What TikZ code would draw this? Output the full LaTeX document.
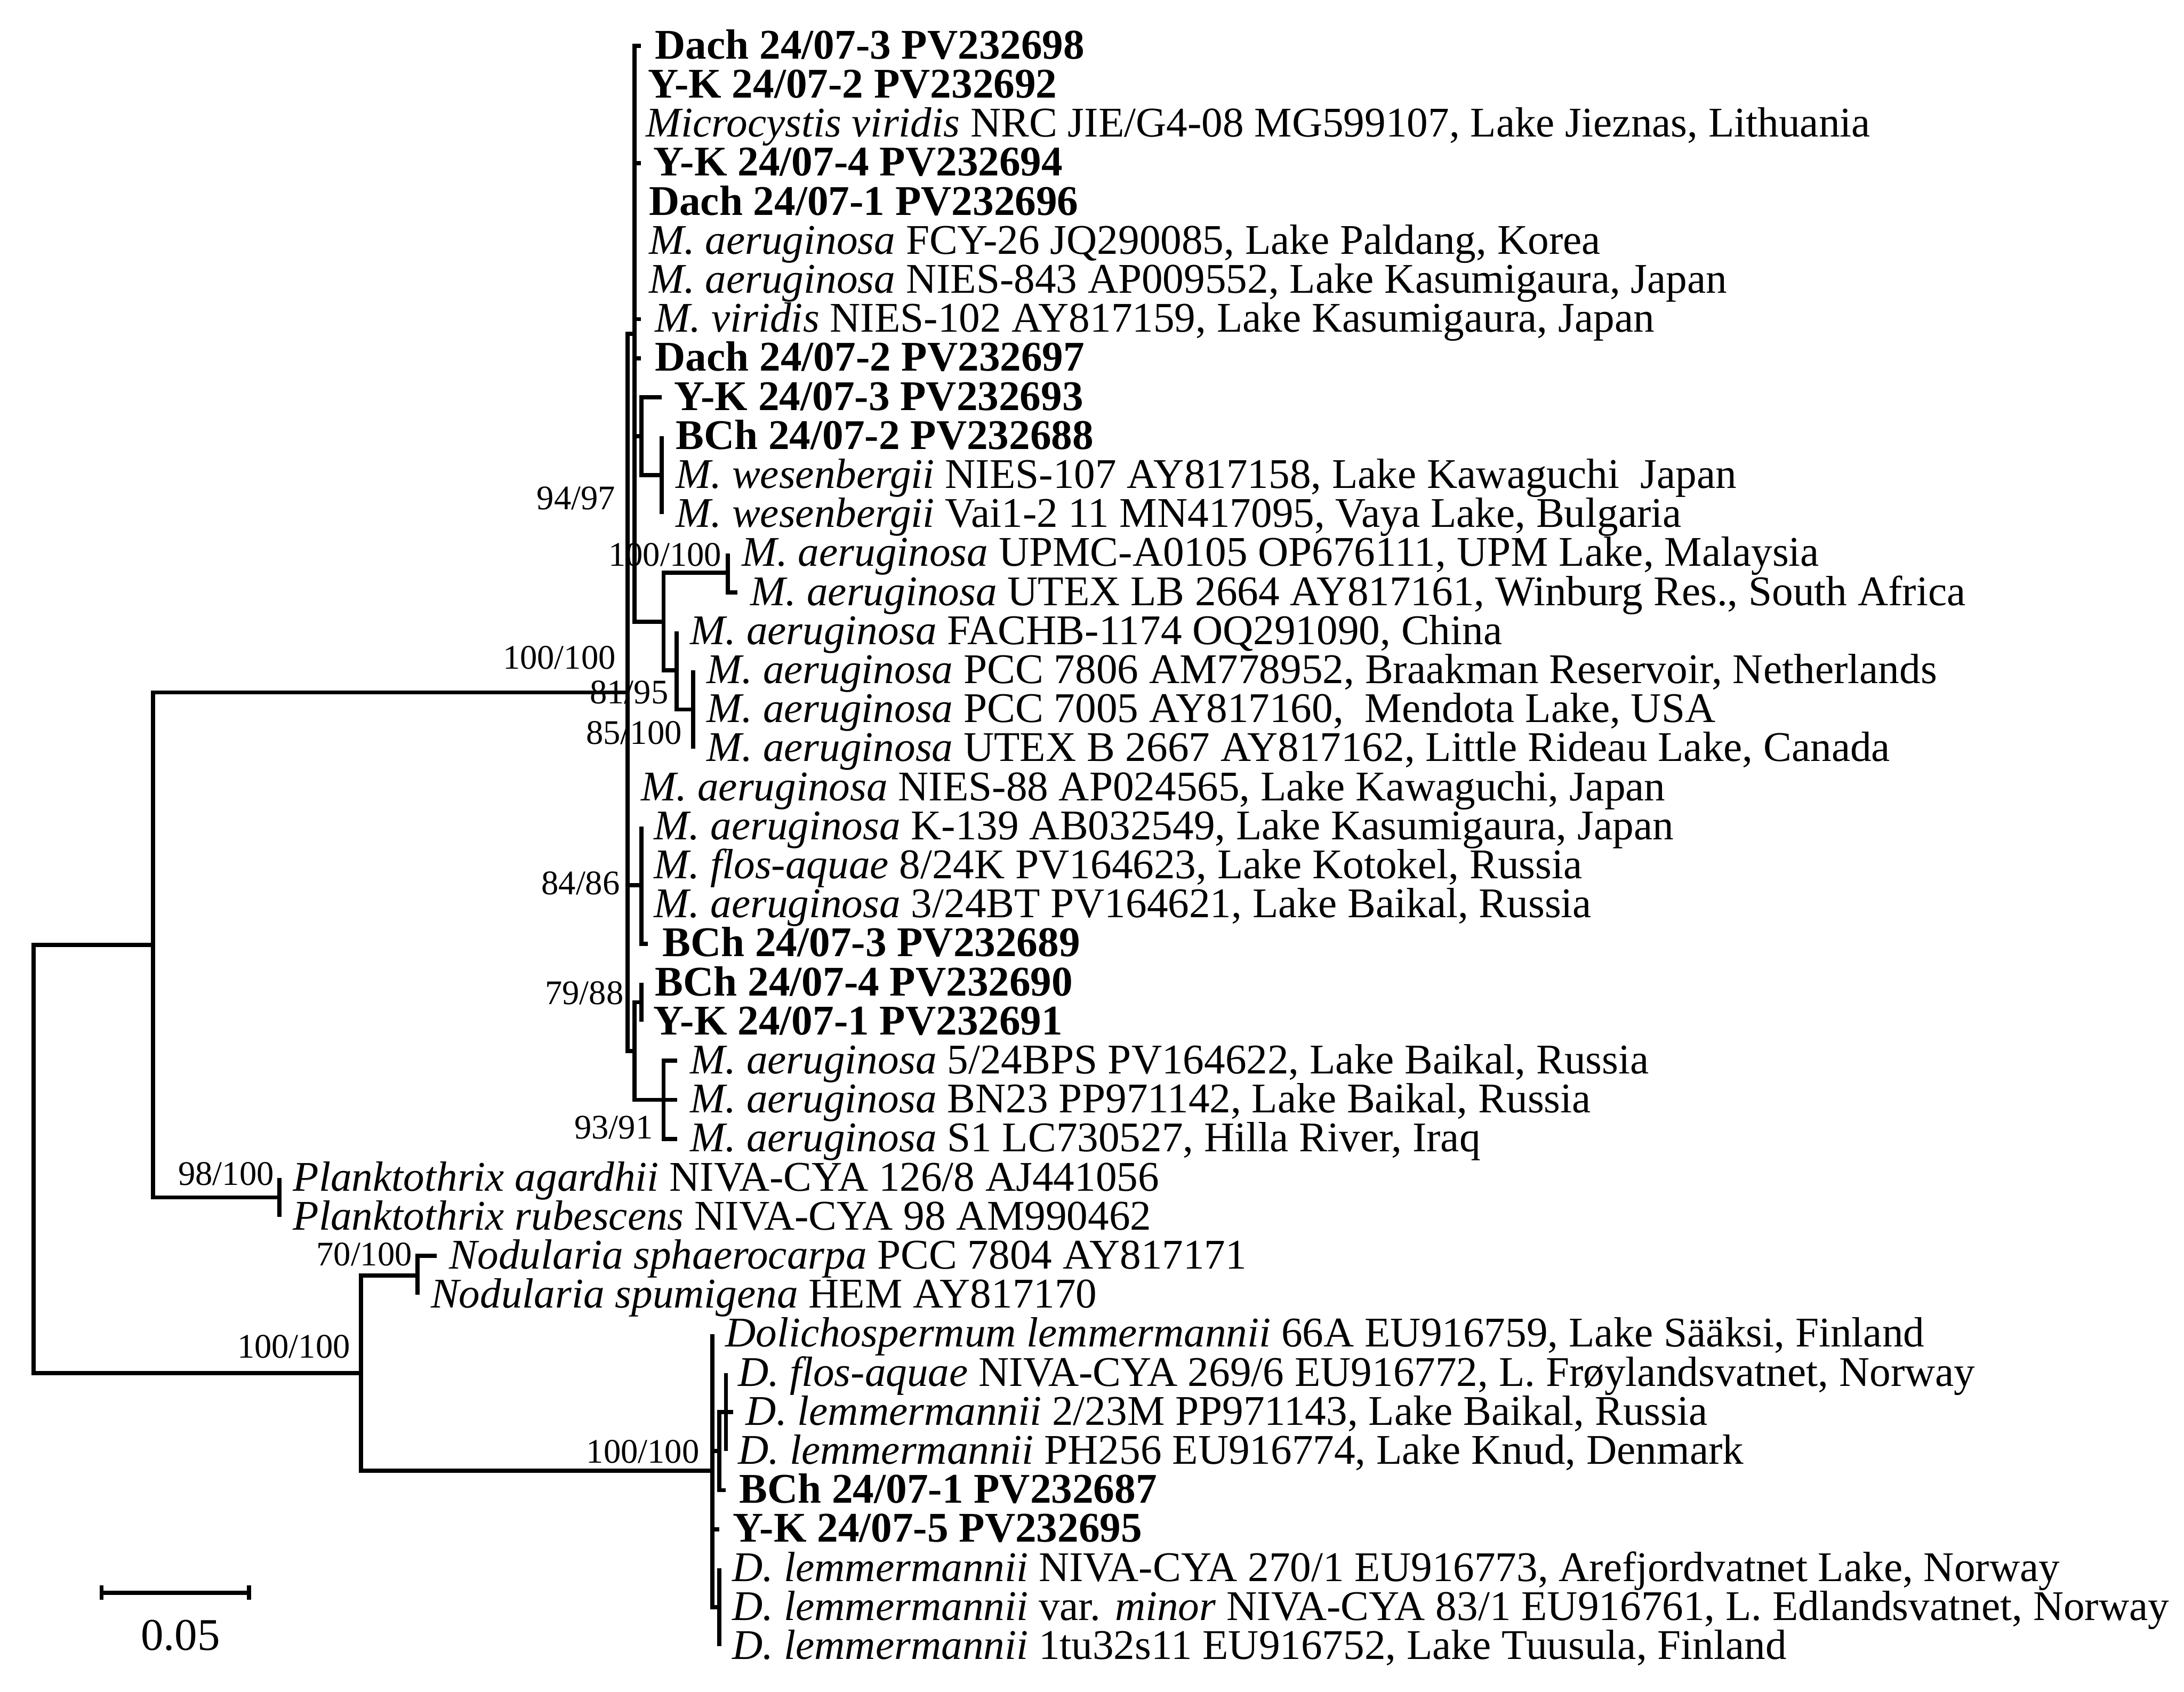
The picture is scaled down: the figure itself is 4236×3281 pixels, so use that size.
\documentclass[tikz,border=0pt]{standalone}
\usepackage{fontspec}
\setmainfont{Liberation Serif}
\newcommand\leaffont{\fontsize{23.3}{27}\selectfont}
\newcommand\bootfont{\fontsize{19}{23}\selectfont}
\newcommand\scalefont{\fontsize{25}{30}\selectfont}
\begin{document}
\begin{tikzpicture}[x=0.01cm,y=-0.01cm,
  br/.style={line width=2.3pt, line join=miter, line cap=butt},
  leaf/.style={anchor=base west, inner sep=0pt, font=\leaffont},
  boot/.style={anchor=base east, inner sep=0pt, font=\bootfont}]
\useasboundingbox (0,0) rectangle (4236,3281);
% bootstrap labels
\node[boot] (b1) at (1194,988) {94/97};
\node[boot] (b2) at (1400,1098) {100/100};
\node[boot] (b3) at (1195,1297) {100/100};
\node[boot] (b4) at (1297,1365) {81/95};
\node[boot] (b5) at (1323,1443) {85/100};
\node[boot] (b6) at (1203,1735) {84/86};
\node[boot] (b7) at (1210,1948) {79/88};
\node[boot] (b8) at (1267,2208) {93/91};
\node[boot] (b9) at (532,2298) {98/100};
\node[boot] (b10) at (800,2455) {70/100};
\node[boot] (b11) at (680,2634) {100/100};
\node[boot] (b12) at (1357,2837) {100/100};
% leaf tips
\coordinate (l0) at (1243,89);
\coordinate (l1) at (1231,164.7);
\coordinate (l2) at (1231,240.4);
\coordinate (l3) at (1243,316.1);
\coordinate (l4) at (1231,391.8);
\coordinate (l5) at (1231,467.5);
\coordinate (l6) at (1231,543.2);
\coordinate (l7) at (1243,618.9);
\coordinate (l8) at (1243,694.6);
\coordinate (l9) at (1283,770.3);
\coordinate (l10) at (1283,846.0);
\coordinate (l11) at (1283,921.7);
\coordinate (l12) at (1283,997.4);
\coordinate (l13) at (1412,1073.1);
\coordinate (l14) at (1430,1148.8);
\coordinate (l15) at (1312,1224.5);
\coordinate (l16) at (1344,1300.2);
\coordinate (l17) at (1344,1375.9);
\coordinate (l18) at (1344,1451.6);
\coordinate (l19) at (1217,1527.3);
\coordinate (l20) at (1244,1603.0);
\coordinate (l21) at (1244,1678.7);
\coordinate (l22) at (1244,1754.4);
\coordinate (l23) at (1257,1830.1);
\coordinate (l24) at (1244,1905.8);
\coordinate (l25) at (1244,1981.5);
\coordinate (l26) at (1313,2057.2);
\coordinate (l27) at (1313,2132.9);
\coordinate (l28) at (1313,2208.6);
\coordinate (l29) at (542,2284.3);
\coordinate (l30) at (542,2360.0);
\coordinate (l31) at (847,2435.7);
\coordinate (l32) at (810,2511.4);
\coordinate (l33) at (1382,2587.1);
\coordinate (l34) at (1408,2662.8);
\coordinate (l35) at (1422,2738.5);
\coordinate (l36) at (1408,2814.2);
\coordinate (l37) at (1408,2889.9);
\coordinate (l38) at (1395,2965.6);
\coordinate (l39) at (1395,3041.3);
\coordinate (l40) at (1395,3117.0);
\coordinate (l41) at (1395,3192.7);
% internal nodes
\coordinate (W2) at (1283,921.7);
\coordinate (W) at (1244,846.0);
\coordinate (Y13) at (1412,1111.0);
\coordinate (Z2) at (1344,1375.9);
\coordinate (Z) at (1312,1300.2);
\coordinate (V) at (1287,1205.6);
\coordinate (P) at (1231,647.3);
\coordinate (U) at (1244,1716.6);
\coordinate (T) at (1244,1943.7);
\coordinate (S) at (1287,2132.9);
\coordinate (R) at (1231,2038.3);
\coordinate (X) at (1217,1342.8);
\coordinate (PL) at (542,2322.2);
\coordinate (A) at (297,1832.5);
\coordinate (N) at (810,2473.6);
\coordinate (E) at (1408,2738.5);
\coordinate (F) at (1395,2814.2);
\coordinate (D3) at (1395,3117.0);
\coordinate (D) at (1382,2852.1);
\coordinate (B) at (700,2662.9);
\coordinate (root) at (65,2247.7);
% branches
\draw[br] (root) |- (A) (root) |- (B);
\draw[br] (A) |- (X) (A) |- (PL);
\draw[br] (PL) |- (l29) (PL) |- (l30);
\draw[br] (X) |- (P) (X) |- (l19) (X) |- (U) (X) |- (R);
\draw[br] (P) |- (l0) (P) |- (l1) (P) |- (l2) (P) |- (l3) (P) |- (l4)
  (P) |- (l5) (P) |- (l6) (P) |- (l7) (P) |- (l8) (P) |- (W) (P) |- (V);
\draw[br] (W) |- (l9) (W) |- (W2);
\draw[br] (W2) |- (l10) (W2) |- (l11) (W2) |- (l12);
\draw[br] (V) |- (Y13) (V) |- (Z);
\draw[br] (Y13) |- (l13) (Y13) |- (l14);
\draw[br] (Z) |- (l15) (Z) |- (Z2);
\draw[br] (Z2) |- (l16) (Z2) |- (l17) (Z2) |- (l18);
\draw[br] (U) |- (l20) (U) |- (l21) (U) |- (l22) (U) |- (l23);
\draw[br] (R) |- (T) (R) |- (S);
\draw[br] (T) |- (l24) (T) |- (l25);
\draw[br] (S) |- (l26) (S) |- (l27) (S) |- (l28);
\draw[br] (B) |- (N) (B) |- (D);
\draw[br] (N) |- (l31) (N) |- (l32);
\draw[br] (D) |- (l33) (D) |- (F) (D) |- (l38) (D) |- (D3);
\draw[br] (F) |- (E) (F) |- (l37);
\draw[br] (E) |- (l34) (E) |- (l35) (E) |- (l36);
\draw[br] (D3) |- (l39) (D3) |- (l40) (D3) |- (l41);
% leaf labels
\node[leaf] (t0) at (1270,114) {\textbf{Dach 24/07-3 PV232698}};
\node[leaf] (t1) at (1256,189.7) {\textbf{Y-K 24/07-2 PV232692}};
\node[leaf] (t2) at (1252,265.4) {\textit{Microcystis viridis} NRC JIE/G4-08 MG599107, Lake Jieznas, Lithuania};
\node[leaf] (t3) at (1267,341.1) {\textbf{Y-K 24/07-4 PV232694}};
\node[leaf] (t4) at (1258,416.8) {\textbf{Dach 24/07-1 PV232696}};
\node[leaf] (t5) at (1258,492.5) {\textit{M. aeruginosa} FCY-26 JQ290085, Lake Paldang, Korea};
\node[leaf] (t6) at (1258,568.2) {\textit{M. aeruginosa} NIES-843 AP009552, Lake Kasumigaura, Japan};
\node[leaf] (t7) at (1270,643.9) {\textit{M. viridis} NIES-102 AY817159, Lake Kasumigaura, Japan};
\node[leaf] (t8) at (1270,719.6) {\textbf{Dach 24/07-2 PV232697}};
\node[leaf] (t9) at (1307,795.3) {\textbf{Y-K 24/07-3 PV232693}};
\node[leaf] (t10) at (1310,871.0) {\textbf{BCh 24/07-2 PV232688}};
\node[leaf] (t11) at (1310,946.7) {\textit{M. wesenbergii} NIES-107 AY817158, Lake Kawaguchi\ \ Japan};
\node[leaf] (t12) at (1310,1022.4) {\textit{M. wesenbergii} Vai1-2 11 MN417095, Vaya Lake, Bulgaria};
\node[leaf] (t13) at (1438,1098.1) {\textit{M. aeruginosa} UPMC-A0105 OP676111, UPM Lake, Malaysia};
\node[leaf] (t14) at (1455,1173.8) {\textit{M. aeruginosa} UTEX LB 2664 AY817161, Winburg Res., South Africa};
\node[leaf] (t15) at (1338,1249.5) {\textit{M. aeruginosa} FACHB-1174 OQ291090, China};
\node[leaf] (t16) at (1370,1325.2) {\textit{M. aeruginosa} PCC 7806 AM778952, Braakman Reservoir, Netherlands};
\node[leaf] (t17) at (1370,1400.9) {\textit{M. aeruginosa} PCC 7005 AY817160,\ \ Mendota Lake, USA};
\node[leaf] (t18) at (1370,1476.6) {\textit{M. aeruginosa} UTEX B 2667 AY817162, Little Rideau Lake, Canada};
\node[leaf] (t19) at (1243,1552.3) {\textit{M. aeruginosa} NIES-88 AP024565, Lake Kawaguchi, Japan};
\node[leaf] (t20) at (1268,1628.0) {\textit{M. aeruginosa} K-139 AB032549, Lake Kasumigaura, Japan};
\node[leaf] (t21) at (1268,1703.7) {\textit{M. flos-aquae} 8/24K PV164623, Lake Kotokel, Russia};
\node[leaf] (t22) at (1268,1779.4) {\textit{M. aeruginosa} 3/24BT PV164621, Lake Baikal, Russia};
\node[leaf] (t23) at (1284,1855.1) {\textbf{BCh 24/07-3 PV232689}};
\node[leaf] (t24) at (1270,1930.8) {\textbf{BCh 24/07-4 PV232690}};
\node[leaf] (t25) at (1267,2006.5) {\textbf{Y-K 24/07-1 PV232691}};
\node[leaf] (t26) at (1338,2082.2) {\textit{M. aeruginosa} 5/24BPS PV164622, Lake Baikal, Russia};
\node[leaf] (t27) at (1338,2157.9) {\textit{M. aeruginosa} BN23 PP971142, Lake Baikal, Russia};
\node[leaf] (t28) at (1338,2233.6) {\textit{M. aeruginosa} S1 LC730527, Hilla River, Iraq};
\node[leaf] (t29) at (568,2309.3) {\textit{Planktothrix agardhii} NIVA-CYA 126/8 AJ441056};
\node[leaf] (t30) at (568,2385.0) {\textit{Planktothrix rubescens} NIVA-CYA 98 AM990462};
\node[leaf] (t31) at (871,2460.7) {\textit{Nodularia sphaerocarpa} PCC 7804 AY817171};
\node[leaf] (t32) at (835,2536.4) {\textit{Nodularia spumigena} HEM AY817170};
\node[leaf] (t33) at (1406,2612.1) {\textit{Dolichospermum lemmermannii} 66A EU916759, Lake Sääksi, Finland};
\node[leaf] (t34) at (1431,2687.8) {\textit{D. flos-aquae} NIVA-CYA 269/6 EU916772, L. Frøylandsvatnet, Norway};
\node[leaf] (t35) at (1446,2763.5) {\textit{D. lemmermannii} 2/23M PP971143, Lake Baikal, Russia};
\node[leaf] (t36) at (1431,2839.2) {\textit{D. lemmermannii} PH256 EU916774, Lake Knud, Denmark};
\node[leaf] (t37) at (1433,2914.9) {\textbf{BCh 24/07-1 PV232687}};
\node[leaf] (t38) at (1421,2990.6) {\textbf{Y-K 24/07-5 PV232695}};
\node[leaf] (t39) at (1420,3066.3) {\textit{D. lemmermannii} NIVA-CYA 270/1 EU916773, Arefjordvatnet Lake, Norway};
\node[leaf] (t40) at (1420,3142.0) {\textit{D. lemmermannii} var. \textit{minor} NIVA-CYA 83/1 EU916761, L. Edlandsvatnet, Norway};
\node[leaf] (t41) at (1420,3217.7) {\textit{D. lemmermannii} 1tu32s11 EU916752, Lake Tuusula, Finland};
% scale bar
\coordinate (s1) at (197,3089);
\coordinate (s2) at (483,3089);
\coordinate (s1a) at (197,3075);
\coordinate (s1b) at (197,3103);
\coordinate (s2a) at (483,3075);
\coordinate (s2b) at (483,3103);
\draw[br] (s1) -- (s2);
\draw[br] (s1a) -- (s1b);
\draw[br] (s2a) -- (s2b);
\node[anchor=base, inner sep=0pt, font=\scalefont] (sl) at (350,3200) {0.05};
\end{tikzpicture}
\end{document}
